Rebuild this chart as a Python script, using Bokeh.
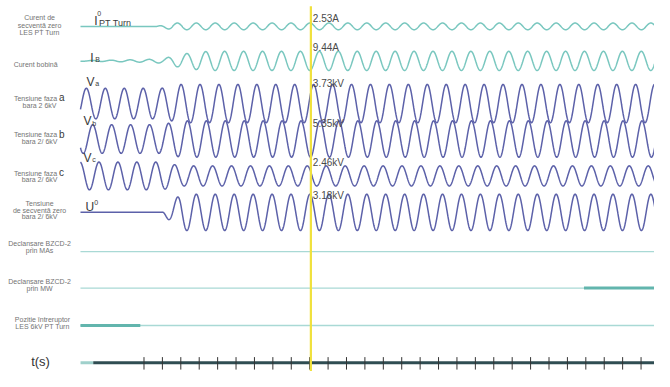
import numpy as np
from bokeh.plotting import figure
from bokeh.models import Range1d
from bokeh.core.properties import value
from bokeh.embed import file_html
from bokeh.resources import INLINE

# ---------------- data ----------------
tick_times = [round(0.02 * i, 2) for i in range(28)]   # s, one tick per 20 ms
cursor_time = 0.1813                                   # s (yellow cursor)
t_start, t_end = -0.069, 0.56                          # s, recorded window
freq_hz = 48.6

cursor_values = [2.53, 9.44, 3.73, 5.35, 2.46, 3.18]
cursor_units = ["A", "A", "kV", "kV", "kV", "kV"]

# RMS envelopes of each analog channel over time
i0_env_t = [-0.069, 0.014, 0.030, 0.56]
i0_env = [0.0, 0.0, 2.53, 2.53]
ib_env_t = [-0.069, -0.050, 0.003, 0.022, 0.035, 0.056, 0.072, 0.56]
ib_env = [0.3, 0.5, 1.4, 2.4, 5.7, 8.5, 9.44, 9.44]
va_env_t = [-0.069, 0.019, 0.040, 0.56]
va_env = [2.98, 2.98, 3.73, 3.73]
vb_env_t = [-0.069, 0.019, 0.040, 0.56]
vb_env = [4.22, 4.22, 5.35, 5.35]
vc_env_t = [-0.069, 0.019, 0.040, 0.56]
vc_env = [3.40, 3.40, 2.46, 2.46]
u0_env_t = [-0.069, 0.019, 0.027, 0.040, 0.56]
u0_env = [0.0, 0.0, 1.34, 3.18, 3.18]

# time of a positive peak for each channel (s)
peak_times = [0.1803, 0.1905, -0.0626, -0.0557, -0.0695, 0.1803]

# digital channels: change times and states
mas_t = [-0.069, 0.56]
mas_state = [0]
mw_t = [-0.069, 0.478, 0.56]
mw_state = [0, 1]
poz_t = [-0.069, -0.004, 0.56]
poz_state = [1, 0]

# ---------------- layout ----------------
W, H = 654, 371
RX0, RX1, RY0, RY1 = 0, 670, 0, 387   # layout coordinate frame of the figure


def sx(px):
    return (px - 147) / 943.0


p = figure(width=W, height=H, output_backend="svg", toolbar_location=None,
           x_range=Range1d(sx(RX0), sx(RX1)), y_range=Range1d(RY1, RY0),
           x_axis_type=None, y_axis_type=None, min_border=0)
p.outline_line_color = None
p.grid.visible = False
p.background_fill_color = "white"
p.border_fill_color = "white"
p.extra_x_ranges = {"px": Range1d(RX0, RX1)}

TEAL = "#79c7bf"
BLUE = "#5c61a9"
FONT = value("Liberation Sans")

# analog channels: (envelope t, envelope, baseline y, px per unit, colour)
channels = [
    (i0_env_t, i0_env, 27, 0.98, TEAL),
    (ib_env_t, ib_env, 63, 0.75, TEAL),
    (va_env_t, va_env, 107.5, 3.79, BLUE),
    (vb_env_t, vb_env, 144.5, 2.51, BLUE),
    (vc_env_t, vc_env, 183, 3.02, BLUE),
    (u0_env_t, u0_env, 221, 4.22, BLUE),
]

t = np.linspace(t_start, t_end, 2400)
for k, (et, ev, base, gain, col) in enumerate(channels):
    name = "ch%d" % k
    p.extra_y_ranges[name] = Range1d((base - RY1) / gain, (base - RY0) / gain)
    env = np.interp(t, et, ev)
    sig = env * np.sqrt(2) * np.cos(2 * np.pi * freq_hz * (t - peak_times[k]))
    p.line(t, sig, y_range_name=name, line_color=col, line_width=1.5)

# digital channels
dig = [(mas_t, mas_state, 262), (mw_t, mw_state, 300), (poz_t, poz_state, 339)]
for tt, st, y in dig:
    p.line([tt[0], tt[-1]], [y, y], line_color="#a9d9d5", line_width=1.3)
    for i, s in enumerate(st):
        if s == 1:
            p.line([tt[i], tt[i + 1]], [y, y], line_color="#62b5ad", line_width=3)

# time axis
p.line([sx(82), sx(95)], [378, 378], line_color="#9fd0cb", line_width=3)
p.line([sx(95), t_end], [378, 378], line_color="#2f4d52", line_width=3)
p.segment(x0=tick_times, y0=[372] * len(tick_times), x1=tick_times,
          y1=[385] * len(tick_times), line_color="#333333", line_width=1)

# cursor
p.segment(x0=[cursor_time], y0=[6], x1=[cursor_time], y1=[400],
          line_color="#f0e13c", line_width=2.2)

# cursor readings
ann_y = [19, 49, 87, 128, 169, 203]
p.text(x=[320] * 6, y=ann_y,
       text=["%.2f%s" % (v, u) for v, u in zip(cursor_values, cursor_units)],
       x_range_name="px", text_font=FONT, text_font_size="10px",
       text_color="#4a4a4a", text_baseline="middle", text_align="left")

# left channel descriptions
lab_lines = [
    ("Curent de", 40, 18), ("secvență zero", 40, 26), ("LES PT Turn", 40, 33),
    ("Curent bobină", 36, 67),
    ("bara 2 6kV", 40, 110),
    ("bara 2/ 6kV", 40, 147),
    ("bara 2/ 6kV", 40, 187),
    ("Tensiune", 40, 212), ("de secvență zero", 40, 219), ("bara 2/ 6kV", 40, 225),
    ("Declanșare BZCD-2", 40, 254), ("prin MAs", 40, 261),
    ("Declanșare BZCD-2", 40, 293), ("prin MW", 40, 300),
    ("Poziție întreruptor", 43, 333), ("LES 6kV PT Turn", 43, 340),
]
p.text(x=[a[1] for a in lab_lines], y=[a[2] for a in lab_lines],
       text=[a[0] for a in lab_lines], x_range_name="px", text_font=FONT,
       text_font_size="7px", text_color="#737373", text_align="center",
       text_baseline="middle")
# "Tensiune faza" + phase letter
for letter, y in (("a", 102), ("b", 140), ("c", 180)):
    p.text(x=[58], y=[y], text=["Tensiune faza"], x_range_name="px",
           text_font=FONT, text_font_size="7px", text_color="#737373",
           text_align="right", text_baseline="middle")
    p.text(x=[60], y=[y - 0.5], text=[letter], x_range_name="px",
           text_font=FONT, text_font_size="10px", text_color="#3a3a3a",
           text_align="left", text_baseline="middle")

# trace names
big = [("I", 96, 21), ("I", 92, 60), ("V", 88, 85), ("V", 85, 126),
       ("V", 85, 164), ("U", 87, 215)]
p.text(x=[b[1] for b in big], y=[b[2] for b in big], text=[b[0] for b in big],
       x_range_name="px", text_font=FONT, text_font_size="12px",
       text_color="#3a3a3a", text_align="left", text_baseline="middle")
small = [("0", 99, 14), ("B", 97, 62), ("a", 97, 87), ("b", 94, 128),
         ("c", 94, 166), ("0", 96, 211)]
p.text(x=[s[1] for s in small], y=[s[2] for s in small], text=[s[0] for s in small],
       x_range_name="px", text_font=FONT, text_font_size="7px",
       text_color="#3a3a3a", text_align="left", text_baseline="middle")
p.text(x=[101], y=[23], text=["PT Turn"], x_range_name="px", text_font=FONT,
       text_font_size="9px", text_color="#3a3a3a", text_align="left",
       text_baseline="middle")

# axis title
p.text(x=[41], y=[377], text=["t(s)"], x_range_name="px", text_font=FONT,
       text_font_size="13px", text_color="#333333", text_align="center",
       text_baseline="middle")

open("out.html", "w").write(file_html(p, INLINE))
